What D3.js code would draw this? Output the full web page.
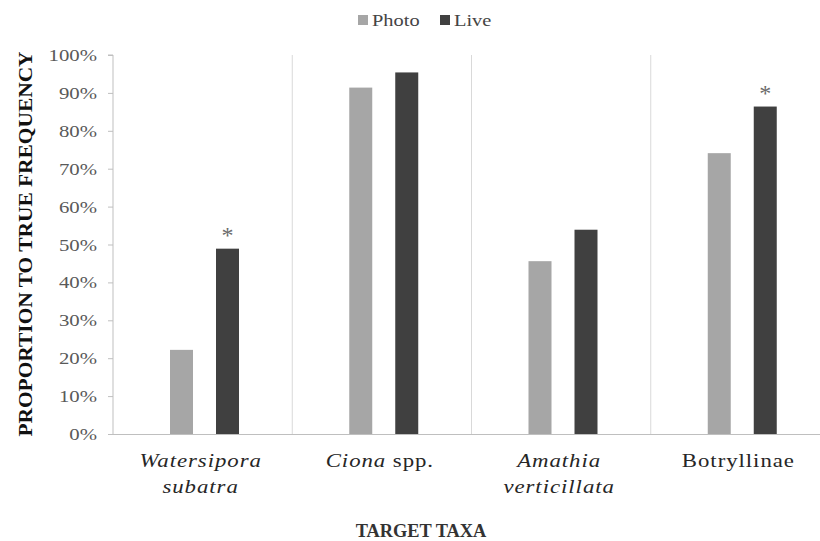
<!DOCTYPE html>
<html><head><meta charset="utf-8">
<script src="https://cdn.jsdelivr.net/npm/d3@7"></script>
<style>body{margin:0;background:#fff}svg{display:block}text{font-family:"Times New Roman","Liberation Serif",Times,serif}</style>
</head><body><svg id="c" width="820" height="541"></svg>
<script>
const categories = ["Watersipora subatra","Ciona spp.","Amathia verticillata","Botryllinae"];
const series = ["Photo","Live"];
const photo = [22.2, 91.4, 45.6, 74.1];
const live = [48.9, 95.4, 53.9, 86.4];
const significant = [true, false, false, true];
const yTicks = [0,10,20,30,40,50,60,70,80,90,100];
const colors = {Photo:"#a6a6a6", Live:"#404040"};
// label parts: [text, italic]
const labelLines = [
  [[["Watersipora",true]],[["subatra",true]]],
  [[["Ciona",true],[" spp.",false]]],
  [[["Amathia",true]],[["verticillata",true]]],
  [[["Botryllinae",false]]]
];

const svg = d3.select("#c");
const SX = 1.2; // horizontal stretch of the source's text
const mLeft = 113, mRight = 830, mTop = 55, mBottom = 434;
const x = d3.scaleBand().domain(categories).range([mLeft, mRight]);
const xs = d3.scalePoint().domain(series).range([57, 103]);
const y = d3.scaleLinear().domain([0,100]).range([mBottom, mTop]);

// separators
svg.append("g").selectAll("line").data(categories.slice(1)).join("line")
  .attr("x1", d=>x(d)).attr("x2", d=>x(d)).attr("y1", mTop).attr("y2", mBottom)
  .attr("stroke","#d9d9d9").attr("stroke-width",1);

// y axis
const ya = svg.append("g").attr("transform",`translate(${mLeft},0)`)
  .call(d3.axisLeft(y).tickValues(yTicks).tickFormat(d=>d+"%").tickSize(5).tickPadding(9));
ya.select(".domain").attr("stroke","#bfbfbf").attr("d",`M-5,${mTop}H0V${mBottom}`);
ya.selectAll(".tick line").attr("stroke","#bfbfbf");
ya.selectAll(".tick text").each(function(){
  const t = d3.select(this);
  t.attr("x",null).attr("dy",null)
   .attr("transform",`translate(-16,5.5) scale(1.3,1)`)
   .attr("font-size",16).attr("fill","#595959");
});

// x baseline
svg.append("line").attr("x1",mLeft).attr("x2",820).attr("y1",mBottom+0.5).attr("y2",mBottom+0.5).attr("stroke","#bfbfbf");

// bars
const data = categories.map((c,i)=>({c, vals:[{s:"Photo",v:photo[i]},{s:"Live",v:live[i]}], sig:significant[i]}));
const bw = 23;
const g = svg.append("g").selectAll("g").data(data).join("g").attr("transform",d=>`translate(${x(d.c)},0)`);
g.selectAll("rect").data(d=>d.vals).join("rect")
  .attr("x",d=>xs(d.s)).attr("width",bw)
  .attr("y",d=>y(d.v)).attr("height",d=>mBottom-y(d.v))
  .attr("fill",d=>colors[d.s]);
g.filter(d=>d.sig).append("text")
  .attr("x",xs("Live")+bw/2).attr("y",d=>y(d.vals[1].v)-6)
  .attr("text-anchor","middle").attr("font-size",24).attr("fill","#6b6b6b")
  .text("*");

// category labels
categories.forEach((c,i)=>{
  labelLines[i].forEach((line,li)=>{
    const t = svg.append("text")
      .attr("transform",`translate(${x(c)+x.bandwidth()/2-2},${467+li*26}) scale(${SX},1)`)
      .attr("text-anchor","middle").attr("font-size",19)
      .attr("letter-spacing",0.8).attr("fill","#262626");
    line.forEach(([s,it])=>t.append("tspan").attr("font-style",it?"italic":"normal").text(s));
  });
});

// axis titles
svg.append("text").attr("transform",`translate(421,537) scale(1.02,1)`).attr("text-anchor","middle")
  .attr("font-weight","bold").attr("font-size",18).attr("fill","#333").text("TARGET TAXA");
svg.append("text").attr("transform",`translate(32,244) rotate(-90) scale(1.19,1)`).attr("text-anchor","middle")
  .attr("font-weight","bold").attr("font-size",18).attr("fill","#111").text("PROPORTION TO TRUE FREQUENCY");

// legend
const lg = svg.append("g").selectAll("g").data(series).join("g")
  .attr("transform",(d,i)=>`translate(${i?440:358},0)`);
lg.append("rect").attr("x",0).attr("y",15).attr("width",10).attr("height",10).attr("fill",d=>colors[d]);
lg.append("text").attr("transform",`translate(14,26) scale(${SX},1)`).attr("font-size",17).attr("fill","#444").text(d=>d);
</script></body></html>
